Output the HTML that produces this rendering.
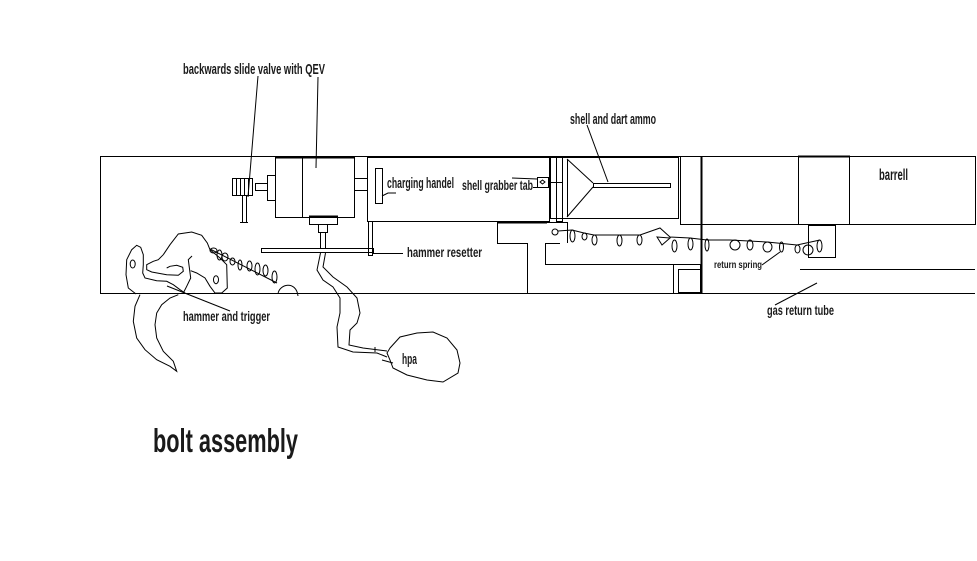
<!DOCTYPE html>
<html><head><meta charset="utf-8"><style>
html,body{margin:0;padding:0;background:#fff;}
svg{display:block}
text{font-family:"Liberation Sans Narrow","Liberation Sans",sans-serif;fill:#1a1a1a;font-weight:bold}
</style></head><body>
<svg width="977" height="561" viewBox="0 0 977 561" xmlns="http://www.w3.org/2000/svg">
<rect width="977" height="561" fill="#fff"/>
<g fill="none" stroke="#000" stroke-width="1" shape-rendering="crispEdges">
  <path d="M100,156.5 H975"/>
  <path d="M100.5,156 V293"/>
  <path d="M100,293.5 H975"/>
  <rect x="232.5" y="178.5" width="20" height="17"/>
  <path d="M236.5,179 V195 M240.5,179 V195 M244.5,179 V195 M248.5,179 V195"/>
  <path d="M242.5,196 V222 M246.5,196 V222 M240,222.5 H248"/>
  <rect x="255.5" y="183.5" width="12" height="7"/>
  <rect x="267.5" y="175.5" width="8" height="25"/>
  <rect x="275.5" y="157.5" width="79" height="60"/>
  <path d="M275,157.5 H355" stroke-width="2"/>
  <path d="M302.5,158 V217"/>
  <rect x="354.5" y="178.5" width="13" height="12"/>
  <rect x="367.5" y="157.5" width="182" height="64"/>
  <rect x="375.5" y="168.5" width="7" height="35"/>
  <rect x="309.5" y="216.5" width="28" height="8"/>
  <path d="M309,216.5 H338" stroke-width="2"/>
  <rect x="318.5" y="224.5" width="9" height="8"/>
  <path d="M320.5,232 V248 M325.5,232 V248"/>
  <rect x="261.5" y="248.5" width="112" height="4"/>
  <rect x="368.5" y="221.5" width="4" height="34"/>
  <path d="M373,253.5 H403"/>
  <rect x="537.5" y="177.5" width="11" height="10"/>
  <path d="M548,182.5 H562"/>
  <path d="M533,187.5 H537"/>
  <rect x="550.5" y="157.5" width="128" height="61"/>
  <rect x="556.5" y="157.5" width="6" height="64"/>
  <path d="M567.5,159 V217"/>
  <rect x="593.5" y="183.5" width="77" height="4"/>
  <rect x="680.5" y="156.5" width="295" height="68"/>
  <path d="M701.5,156 V293" stroke-width="2"/>
  <path d="M798.5,156 V224 M849.5,156 V224"/>
  <path d="M798,156.5 H850" stroke-width="2"/>
  <rect x="808.5" y="225.5" width="27" height="32"/>
  <path d="M800,269.5 H975"/>
  <path d="M547,222.5 H497.5 V243.5 H527.5 V293"/>
  <path d="M497,222.5 H547" stroke-width="2"/>
  <path d="M547,222.5 H567.5 V243"/>
  <path d="M560,243.5 H545.5 V264.5 H700"/>
  <rect x="673.5" y="264.5" width="27" height="29"/>
  <rect x="678.5" y="269.5" width="22" height="23"/>
</g>
<g fill="none" stroke="#000" stroke-width="1">
  <path d="M540,182 L542.5,180 L545,182 L542.5,184 Z"/>
  <path d="M567,159 L593,183 M567,217 L593,187"/>
  <path d="M258,76 L248,197"/>
  <path d="M318,77 L316,168"/>
  <path d="M587,125 L608,182"/>
  <path d="M382,196 L388,193 L396,193"/>
  <path d="M512,178 L537,179"/>
  <path d="M762,265 L780,252"/>
  <path d="M775,305 L817,283"/>
  <path d="M167,286 L230,311"/>
  <path d="M382,360 L393,363"/>
  <circle cx="555" cy="232" r="3"/>
  <polyline points="558,231 572,230 584,233 594,235 618,235 640,235 660,228 670,237 690,238 707,240 730,240 767,242 797,245 820,240"/>
  <ellipse cx="572.5" cy="236" rx="2.5" ry="6"/>
  <ellipse cx="584.5" cy="236.5" rx="2.5" ry="3.5"/>
  <ellipse cx="594.5" cy="240" rx="2.5" ry="5"/>
  <ellipse cx="619.5" cy="240.5" rx="2.5" ry="5.5"/>
  <ellipse cx="639.5" cy="240" rx="2.5" ry="5"/>
  <path d="M657,237 L670,238 L662,245 Z"/>
  <ellipse cx="674.5" cy="246" rx="2.5" ry="6"/>
  <ellipse cx="690.5" cy="244" rx="2.5" ry="6"/>
  <ellipse cx="707" cy="245" rx="2" ry="6"/>
  <ellipse cx="735" cy="245" rx="5" ry="5"/>
  <ellipse cx="750" cy="245" rx="3" ry="5"/>
  <ellipse cx="767.5" cy="247" rx="4.5" ry="5"/>
  <ellipse cx="781.5" cy="247" rx="2" ry="5"/>
  <ellipse cx="797.5" cy="249" rx="2.5" ry="4"/>
  <ellipse cx="808" cy="250" rx="5" ry="5"/>
  <ellipse cx="819.5" cy="246" rx="2.5" ry="6"/>
  <path d="M136,294 L128.3,288 L126,274.7 L126.7,259.7 L131.7,249.7 L136.7,245.3 L140.7,247.3 L143.3,254.7 L143.3,264.7 L142.7,273 L145,278 L156.7,280.7 L166.7,281.3 L173.3,284.7 L180,289.7 L185,293"/>
  <path d="M140,294.7 L135,306.3 L133.3,321.3 L136.7,338 L145,349.7 L156.7,359.7 L170,366.3 L176.7,371.3 L173.3,361.3 L163.3,351.3 L156.7,338 L155,324.7 L156.7,313 L161.7,304.7 L170,298 L178.3,294.7"/>
  <ellipse cx="132.7" cy="264" rx="2.5" ry="4"/>
  <path d="M163.3,254.7 L170,244.7 L178.3,234 L191.7,232 L201.7,235.3 L207.3,243 L210,249.7 L220,258 L226.7,264.7 L227.3,288 L221.7,293 L215,293 L210,286.3 L205,278 L196.7,273 L190.7,270.7"/>
  <path d="M163.3,254.7 L158.3,259.7 L153.3,261.3 L146.7,264.7 L146.7,269.7 L151.7,272 L166.7,274.7 L178.3,275.3 L183.3,271.3 L182.7,267.3 L176.7,265.3 L170,266.3 L166.7,268"/>
  <path d="M192,256 L188.3,259.7 L190.7,278 L186.7,286.3 L183.3,293"/>
  <ellipse cx="216" cy="279.7" rx="2.5" ry="4"/>
  <polyline points="210,249 277,283"/>
  <ellipse cx="213.5" cy="250.5" rx="3.5" ry="2.5"/>
  <ellipse cx="219.5" cy="255" rx="2.5" ry="5"/>
  <ellipse cx="225" cy="257" rx="3" ry="4"/>
  <ellipse cx="232.5" cy="261.5" rx="2.5" ry="3.5"/>
  <ellipse cx="240" cy="265" rx="2" ry="5"/>
  <ellipse cx="249.5" cy="266" rx="2.5" ry="5"/>
  <ellipse cx="257.5" cy="269" rx="2.5" ry="6"/>
  <ellipse cx="265.5" cy="270.5" rx="2.5" ry="5.5"/>
  <ellipse cx="274.5" cy="277" rx="2.5" ry="6"/>
  <path d="M278,294 C279,284 296,280 298,296"/>
  <path d="M320.5,253 L317,270 L323,280 L333,287 L340,298 L340,313 L337,327 L338,347 L353,352 L377,353 L387,357"/>
  <path d="M325.5,253 L323,267 L333,277 L347,287 L357,298 L360,313 L357,323 L350,330 L349,345 L363,348 L387,351"/>
  <path d="M375,347 V352"/>
  <path d="M390,348 L400,337 L417,333 L433,332 L447,338 L457,350 L460,363 L458,373 L443,382 L427,380 L407,375 L393,368 L390,360 L387,353 Z"/>
</g>
<text x="183" y="74" font-size="15" textLength="142" lengthAdjust="spacingAndGlyphs">backwards slide valve with QEV</text>
<text x="570" y="124" font-size="15" textLength="86" lengthAdjust="spacingAndGlyphs">shell and dart ammo</text>
<text x="387" y="188" font-size="15" textLength="67" lengthAdjust="spacingAndGlyphs">charging handel</text>
<text x="462" y="190" font-size="14" textLength="71" lengthAdjust="spacingAndGlyphs">shell grabber tab</text>
<text x="407" y="257" font-size="14" textLength="75" lengthAdjust="spacingAndGlyphs">hammer resetter</text>
<text x="714" y="268" font-size="10" textLength="48" lengthAdjust="spacingAndGlyphs">return spring</text>
<text x="879" y="180" font-size="16" textLength="29" lengthAdjust="spacingAndGlyphs">barrell</text>
<text x="767" y="315" font-size="14" textLength="67" lengthAdjust="spacingAndGlyphs">gas return tube</text>
<text x="183" y="321" font-size="14" textLength="87" lengthAdjust="spacingAndGlyphs">hammer and trigger</text>
<text x="402" y="364" font-size="15" textLength="15" lengthAdjust="spacingAndGlyphs">hpa</text>
<text x="153" y="452" font-size="33" textLength="145" lengthAdjust="spacingAndGlyphs">bolt assembly</text>
</svg>
</body></html>
